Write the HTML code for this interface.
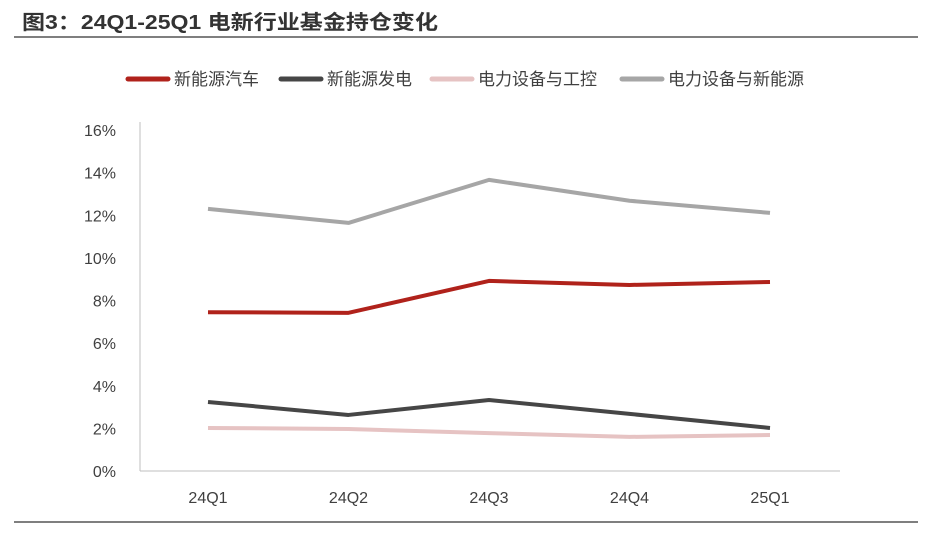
<!DOCTYPE html>
<html><head><meta charset="utf-8"><style>
body{margin:0;background:#fff;width:932px;height:528px;overflow:hidden;font-family:"Liberation Sans","Noto Sans CJK SC",sans-serif;}
</style></head><body>
<svg width="932" height="528" xmlns="http://www.w3.org/2000/svg">
<text x="22" y="29" font-size="20" font-weight="bold" fill="#333" textLength="416" lengthAdjust="spacingAndGlyphs" font-family="Liberation Sans, Noto Sans CJK SC, sans-serif">图3：24Q1-25Q1 电新行业基金持仓变化</text>
<line x1="14" y1="37" x2="918" y2="37" stroke="#555" stroke-width="1.5"/>
<line x1="14" y1="522" x2="918" y2="522" stroke="#555" stroke-width="1.5"/>
<g id="legend"></g>
<g id="axes"></g>
<g id="plot"></g>
</svg>
<script>
const categories=["24Q1","24Q2","24Q3","24Q4","25Q1"];
const seriesNames=["新能源汽车","新能源发电","电力设备与工控","电力设备与新能源"];
const seriesColors=["#b0221b","#464646","#e6c3c3","#a6a6a6"];
const nevValues=[7.45,7.42,8.92,8.73,8.87];
const solarValues=[3.24,2.63,3.33,2.68,2.02];
const equipValues=[2.02,1.97,1.78,1.60,1.69];
const newEnergyValues=[12.3,11.64,13.66,12.68,12.11];
const yTicks=[0,2,4,6,8,10,12,14,16];
const NS="http://www.w3.org/2000/svg";
const x0=140,x1=840,yBot=471,yTop=130;
function xs(i){return 208+i*140.5;}
function ys(v){return yBot-(v/16)*(yBot-yTop);}
function mk(t,a,p){const e=document.createElementNS(NS,t);for(const k in a)e.setAttribute(k,a[k]);p.appendChild(e);return e;}
const axes=document.getElementById('axes');
const yl=mk('line',{x1:x0,y1:yTop-8,x2:x0,y2:yBot,stroke:'#bfbfbf','stroke-width':1},axes);


const xl=mk('line',{x1:x0,y1:yBot,x2:x1,y2:yBot,stroke:'#bfbfbf','stroke-width':1},axes);


yTicks.forEach(v=>{const t=mk('text',{x:116,y:ys(v)+6,'font-size':16,fill:'#404040','text-anchor':'end'},axes);t.textContent=v+'%';

});
categories.forEach((c,i)=>{const t=mk('text',{x:xs(i),y:503,'font-size':16,fill:'#404040','text-anchor':'middle'},axes);t.textContent=c;

});
const plot=document.getElementById('plot');
const all=[nevValues,solarValues,equipValues,newEnergyValues];
[3,2,1,0].forEach(s=>{const pts=all[s].map((v,i)=>xs(i)+','+ys(v)).join(' ');
const p=mk('polyline',{points:pts,fill:'none',stroke:seriesColors[s],'stroke-width':4,'stroke-linejoin':'round'},plot);

});
const lg=document.getElementById('legend');
const lx=[128,281,432,622];
seriesNames.forEach((n,i)=>{
const l=mk('line',{x1:lx[i],y1:79,x2:lx[i]+40,y2:79,stroke:seriesColors[i],'stroke-width':5,'stroke-linecap':'round'},lg);


const t=mk('text',{x:lx[i]+46,y:85,'font-size':17,fill:'#404040'},lg);t.textContent=n;

});
</script>
</body></html>
